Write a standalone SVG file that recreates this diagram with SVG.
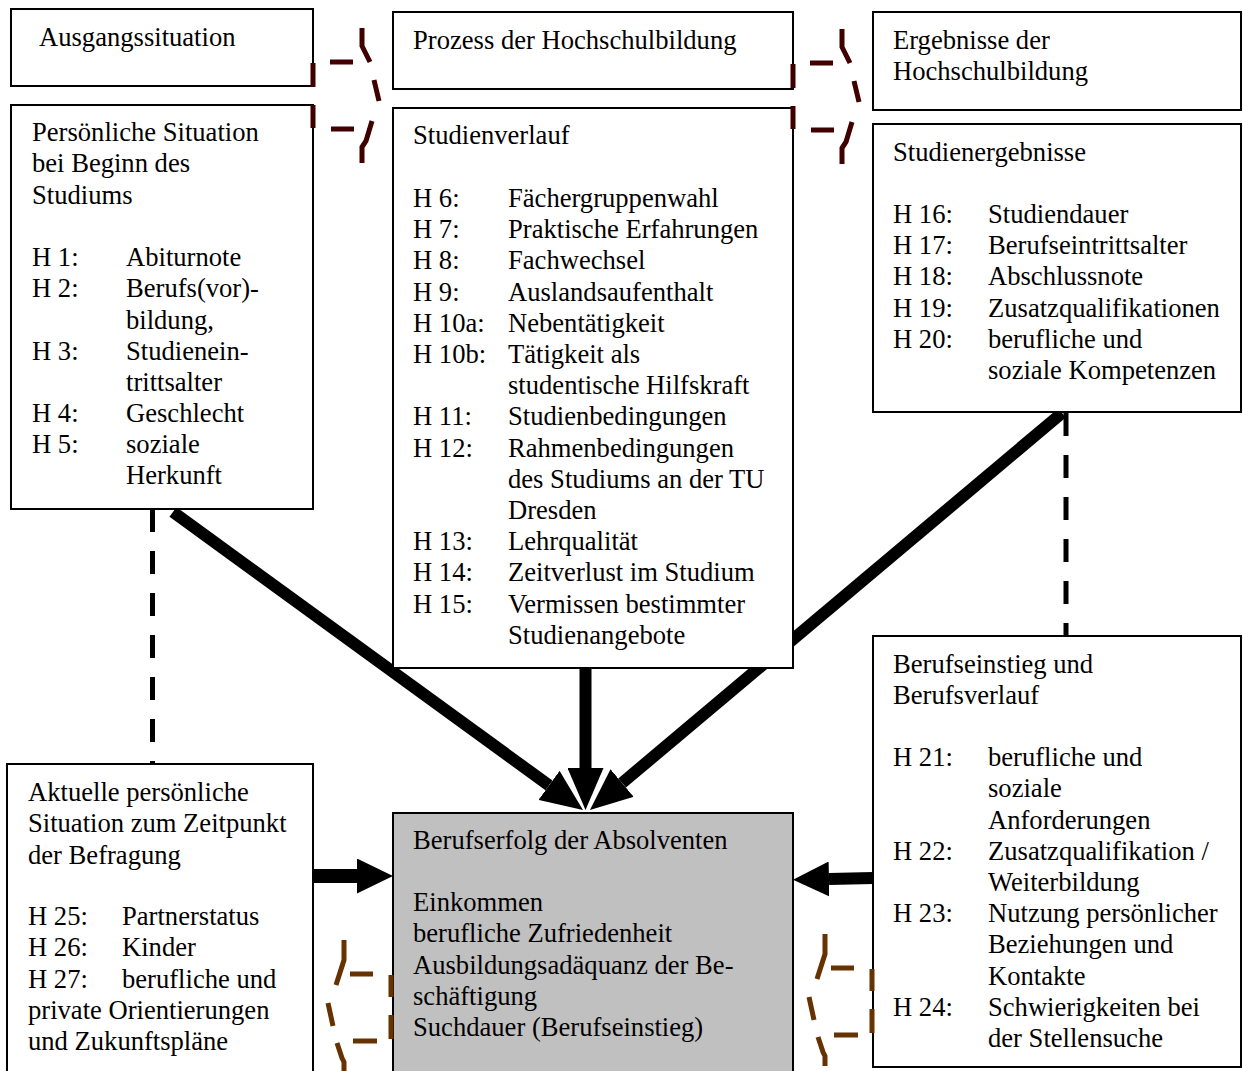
<svg xmlns="http://www.w3.org/2000/svg" width="1243" height="1071" viewBox="0 0 1243 1071">
<style>
.box{fill:#fff;stroke:#000;stroke-width:2}
.grey{fill:#C0C0C0;stroke:#000;stroke-width:2}
text{font-family:"Liberation Serif","Times New Roman",serif;font-size:26.6px;fill:#000}
.thick{stroke:#000;stroke-width:12;fill:none}
.dash{stroke:#000;stroke-width:5;stroke-dasharray:23 19;fill:none}
.br1{stroke:#400000;stroke-width:5;fill:none}
.br2{stroke:#663300;stroke-width:5;fill:none}
</style>
<defs>
<marker id="head" markerUnits="userSpaceOnUse" markerWidth="42" markerHeight="36" viewBox="0 0 42 36" refX="0" refY="18" orient="auto"><path d="M0,0 L42,18 L0,36 z" fill="#000"/></marker>
<marker id="headS" markerUnits="userSpaceOnUse" markerWidth="36" markerHeight="35" viewBox="0 0 36 35" refX="0" refY="17.5" orient="auto"><path d="M0,0 L36,17.5 L0,35 z" fill="#000"/></marker>
</defs>
<g id="connectors">
<line class="thick" x1="173" y1="512" x2="549" y2="785.4" marker-end="url(#head)"/>
<line class="thick" x1="585.5" y1="668" x2="585.5" y2="768" marker-end="url(#head)"/>
<line class="thick" x1="1062" y1="413" x2="622.1" y2="783" marker-end="url(#head)"/>
<line class="thick" style="stroke-width:14" x1="313" y1="876" x2="357" y2="876" marker-end="url(#headS)"/>
<line class="thick" x1="873" y1="878" x2="829" y2="879" marker-end="url(#headS)"/>
<line class="dash" x1="152.5" y1="509" x2="152.5" y2="765"/>
<line class="dash" x1="1066" y1="413" x2="1066" y2="636"/>
</g>
<g id="ausgangssituation">
<rect class="box" x="11" y="9" width="302" height="77"/>
<text x="39" y="46">Ausgangssituation</text>
</g>
<g id="persoenliche-situation">
<rect class="box" x="11" y="105" width="302" height="404"/>
<text x="32" y="141">Persönliche Situation</text>
<text x="32" y="172">bei Beginn des</text>
<text x="32" y="204">Studiums</text>
<text x="32" y="266">H 1:</text><text x="126" y="266">Abiturnote</text>
<text x="32" y="297">H 2:</text><text x="126" y="297">Berufs(vor)-</text>
<text x="126" y="329">bildung,</text>
<text x="32" y="360">H 3:</text><text x="126" y="360">Studienein-</text>
<text x="126" y="391">trittsalter</text>
<text x="32" y="422">H 4:</text><text x="126" y="422">Geschlecht</text>
<text x="32" y="453">H 5:</text><text x="126" y="453">soziale</text>
<text x="126" y="484">Herkunft</text>
</g>
<g id="prozess">
<rect class="box" x="393" y="12" width="400" height="77"/>
<text x="413" y="49">Prozess der Hochschulbildung</text>
</g>
<g id="studienverlauf">
<rect class="box" x="393" y="108" width="400" height="560"/>
<text x="413" y="144">Studienverlauf</text>
<text x="413" y="207">H 6:</text><text x="508" y="207">Fächergruppenwahl</text>
<text x="413" y="238">H 7:</text><text x="508" y="238">Praktische Erfahrungen</text>
<text x="413" y="269">H 8:</text><text x="508" y="269">Fachwechsel</text>
<text x="413" y="301">H 9:</text><text x="508" y="301">Auslandsaufenthalt</text>
<text x="413" y="332">H 10a:</text><text x="508" y="332">Nebentätigkeit</text>
<text x="413" y="363">H 10b:</text><text x="508" y="363">Tätigkeit als</text>
<text x="508" y="394">studentische Hilfskraft</text>
<text x="413" y="425">H 11:</text><text x="508" y="425">Studienbedingungen</text>
<text x="413" y="457">H 12:</text><text x="508" y="457">Rahmenbedingungen</text>
<text x="508" y="488">des Studiums an der TU</text>
<text x="508" y="519">Dresden</text>
<text x="413" y="550">H 13:</text><text x="508" y="550">Lehrqualität</text>
<text x="413" y="581">H 14:</text><text x="508" y="581">Zeitverlust im Studium</text>
<text x="413" y="613">H 15:</text><text x="508" y="613">Vermissen bestimmter</text>
<text x="508" y="644">Studienangebote</text>
</g>
<g id="ergebnisse">
<rect class="box" x="873" y="12" width="368" height="98"/>
<text x="893" y="49">Ergebnisse der</text>
<text x="893" y="80">Hochschulbildung</text>
</g>
<g id="studienergebnisse">
<rect class="box" x="873" y="124" width="368" height="288"/>
<text x="893" y="161">Studienergebnisse</text>
<text x="893" y="223">H 16:</text><text x="988" y="223">Studiendauer</text>
<text x="893" y="254">H 17:</text><text x="988" y="254">Berufseintrittsalter</text>
<text x="893" y="285">H 18:</text><text x="988" y="285">Abschlussnote</text>
<text x="893" y="317">H 19:</text><text x="988" y="317">Zusatzqualifikationen</text>
<text x="893" y="348">H 20:</text><text x="988" y="348">berufliche und</text>
<text x="988" y="379">soziale Kompetenzen</text>
</g>
<g id="berufseinstieg">
<rect class="box" x="873" y="636" width="368" height="431"/>
<text x="893" y="673">Berufseinstieg und</text>
<text x="893" y="704">Berufsverlauf</text>
<text x="893" y="766">H 21:</text><text x="988" y="766">berufliche und</text>
<text x="988" y="797">soziale</text>
<text x="988" y="829">Anforderungen</text>
<text x="893" y="860">H 22:</text><text x="988" y="860">Zusatzqualifikation /</text>
<text x="988" y="891">Weiterbildung</text>
<text x="893" y="922">H 23:</text><text x="988" y="922">Nutzung persönlicher</text>
<text x="988" y="953">Beziehungen und</text>
<text x="988" y="985">Kontakte</text>
<text x="893" y="1016">H 24:</text><text x="988" y="1016">Schwierigkeiten bei</text>
<text x="988" y="1047">der Stellensuche</text>
</g>
<g id="aktuelle-situation">
<rect class="box" x="7" y="764" width="306" height="330"/>
<text x="28" y="801">Aktuelle persönliche</text>
<text x="28" y="832">Situation zum Zeitpunkt</text>
<text x="28" y="864">der Befragung</text>
<text x="28" y="925">H 25:</text><text x="122" y="925">Partnerstatus</text>
<text x="28" y="956">H 26:</text><text x="122" y="956">Kinder</text>
<text x="28" y="988">H 27:</text><text x="122" y="988">berufliche und</text>
<text x="28" y="1019">private Orientierungen</text>
<text x="28" y="1050">und Zukunftspläne</text>
</g>
<g id="berufserfolg">
<rect class="grey" x="393" y="813" width="400" height="280"/>
<text x="413" y="849">Berufserfolg der Absolventen</text>
<text x="413" y="911">Einkommen</text>
<text x="413" y="942">berufliche Zufriedenheit</text>
<text x="413" y="974">Ausbildungsadäquanz der Be-</text>
<text x="413" y="1005">schäftigung</text>
<text x="413" y="1036">Suchdauer (Berufseinstieg)</text>
</g>
<g id="braces">
<g id="brace-top-1" class="br1">
<path d="M313,63V87M313,105V128M330,62H353M331,129H354"/>
<path d="M362,28V46L370,62M374,80L379,101M372,121L366,141L362,147V163"/>
</g>
<g id="brace-top-2" class="br1" transform="translate(480,1)">
<path d="M313,63V87M313,105V128M330,62H353M331,129H354"/>
<path d="M362,28V46L370,62M374,80L379,101M372,121L366,141L362,147V163"/>
</g>
<g id="brace-bottom-1" class="br2">
<path d="M391,975V997M391,1015V1039M350,974H373M353,1041H377"/>
<path d="M344,940V960L336,985M328,1003L333,1026M337,1043L342,1058L344,1062V1072"/>
</g>
<g id="brace-bottom-2" class="br2" transform="translate(481,-6)">
<path d="M391,975V997M391,1015V1039M350,974H373M353,1041H377"/>
<path d="M344,940V960L336,985M328,1003L333,1026M337,1043L342,1058L344,1062V1072"/>
</g>
</g>
</svg>
